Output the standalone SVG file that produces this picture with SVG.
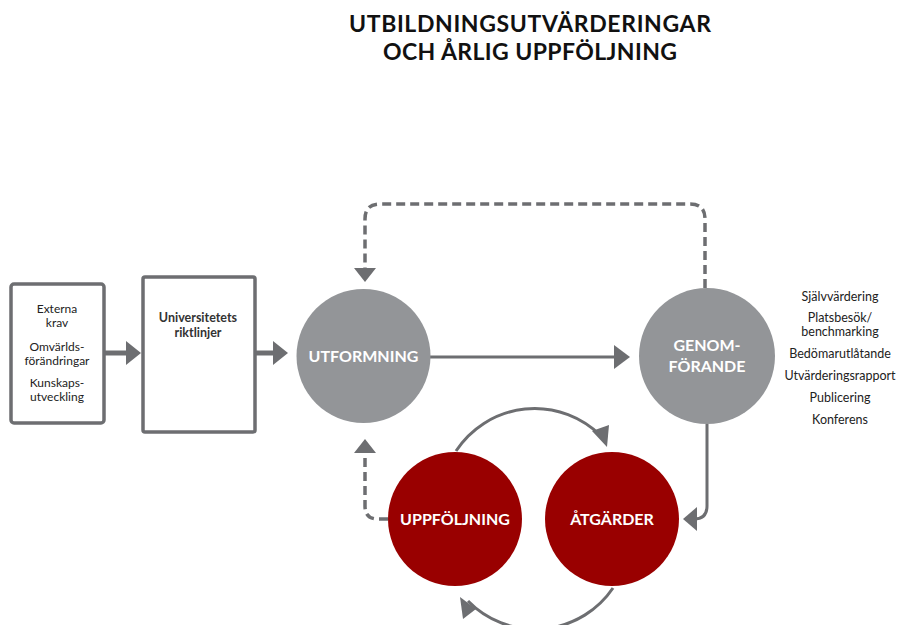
<svg xmlns="http://www.w3.org/2000/svg" width="898" height="625" viewBox="0 0 898 625">
<style>
.t{font-family:Lato,"Open Sans","Liberation Sans",sans-serif}
.title{font-size:23px;font-weight:bold;fill:#111;text-anchor:middle}
.box{fill:#fff;stroke:#6d6e71;stroke-width:3.5}
.bt{font-size:12px;fill:#222;text-anchor:middle}
.bb{font-size:12.5px;font-weight:bold;fill:#333;text-anchor:middle}
.cl{font-size:16px;font-weight:bold;fill:#fff;text-anchor:middle}
.grey{fill:#939598}
.red{fill:#990000}
.rt{font-size:12.5px;fill:#222;text-anchor:middle}
.ln{fill:none;stroke:#6d6e71;stroke-width:3}
.thick{fill:none;stroke:#6d6e71;stroke-width:5}
.dash{fill:none;stroke:#6d6e71;stroke-width:3.5;stroke-dasharray:9 5}
</style>
<g id="title" class="t">
<text class="title" x="530" y="32" textLength="362" lengthAdjust="spacing">UTBILDNINGSUTVÄRDERINGAR</text>
<text class="title" x="530" y="60" textLength="294" lengthAdjust="spacing">OCH ÅRLIG UPPFÖLJNING</text>
</g>
<g id="connectors">
<line class="thick" x1="105" y1="353" x2="128" y2="353"/>
<path d="M126,341 L141,353 L126,365 Z" fill="#6d6e71"/>
<line class="thick" x1="256" y1="353" x2="275" y2="353"/>
<path d="M273,341 L288,353 L273,365 Z" fill="#6d6e71"/>
<line class="ln" x1="430" y1="357" x2="616" y2="357"/>
<path d="M614,345 L630,357 L614,369 Z" fill="#6d6e71"/>
<path class="dash" d="M705,288 L705,219 Q705,204 690,204 L380,204 Q365,204 365,219 L365,269"/>
<path d="M354,268 L365,282 L376,268 Z" fill="#6d6e71"/>
<path class="ln" d="M707,424 L707,506 Q707,519 694,519 L692,519"/>
<path d="M697,507 L683,519 L697,531 Z" fill="#6d6e71"/>
<path class="dash" d="M388,519 L378,519 Q365,519 365,506 L365,452"/>
<path d="M354,453 L365,439 L376,453 Z" fill="#6d6e71"/>
<path class="ln" d="M456,451 A94,94 0 0 1 601,436"/>
<path d="M592,431 L607,447 L609,425 Z" fill="#6d6e71"/>
<path class="ln" d="M613,588 A94,94 0 0 1 468,601"/>
<path d="M476,609 L460,597 L463,619 Z" fill="#6d6e71"/>
</g>
<g id="externa" class="t">
<rect class="box" x="11" y="284" width="93" height="139" rx="3"/>
<text class="bt" x="57" y="313">Externa</text>
<text class="bt" x="57" y="327">krav</text>
<text class="bt" x="57" y="351">Omvärlds-</text>
<text class="bt" x="57" y="365">förändringar</text>
<text class="bt" x="57" y="387">Kunskaps-</text>
<text class="bt" x="57" y="401">utveckling</text>
</g>
<g id="riktlinjer" class="t">
<rect class="box" x="143" y="277" width="112" height="155" rx="2"/>
<text class="bb" x="198" y="322">Universitetets</text>
<text class="bb" x="198" y="337">riktlinjer</text>
</g>
<g id="utformning" class="t">
<circle class="grey" cx="363.5" cy="356" r="67"/>
<text class="cl" x="363.5" y="362">UTFORMNING</text>
</g>
<g id="genomforande" class="t">
<circle class="grey" cx="707" cy="356" r="68"/>
<text class="cl" x="707" y="351">GENOM-</text>
<text class="cl" x="707" y="372">FÖRANDE</text>
</g>
<g id="uppfoljning" class="t">
<circle class="red" cx="455" cy="519" r="67"/>
<text class="cl" x="455" y="525">UPPFÖLJNING</text>
</g>
<g id="atgarder" class="t">
<circle class="red" cx="612" cy="519" r="67"/>
<text class="cl" x="612" y="525">ÅTGÄRDER</text>
</g>
<g id="aktiviteter" class="t">
<text class="rt" x="840" y="301">Självvärdering</text>
<text class="rt" x="840" y="322">Platsbesök/</text>
<text class="rt" x="840" y="336">benchmarking</text>
<text class="rt" x="840" y="358">Bedömarutlåtande</text>
<text class="rt" x="840" y="380">Utvärderingsrapport</text>
<text class="rt" x="840" y="402">Publicering</text>
<text class="rt" x="840" y="424">Konferens</text>
</g>
</svg>
